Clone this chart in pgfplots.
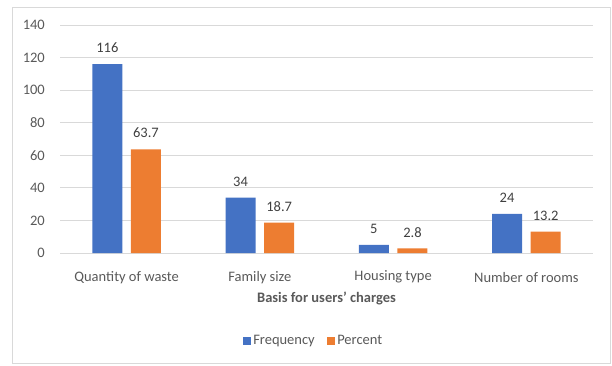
\documentclass[border=0pt]{standalone}
\usepackage{pgfplots}
\pgfplotsset{compat=1.18}
\usepackage{fontspec}
\setmainfont{Carlito}
\definecolor{cblue}{HTML}{4472C4}
\definecolor{corange}{HTML}{ED7D31}
\definecolor{cgrid}{HTML}{D9D9D9}
\definecolor{ctext}{HTML}{595959}
\definecolor{clab}{HTML}{404040}
\newcommand{\cf}{\fontsize{14.5bp}{17bp}\selectfont}
\begin{document}
\begin{tikzpicture}[x=1bp,y=1bp]
\useasboundingbox (0,0) rectangle (612,365);
\draw[cgrid, line width=0.75bp] (12.5,2) rectangle (610,358);
\begin{axis}[
  /pgf/number format/assume math mode=true,
  at={(60bp,112bp)}, anchor=south west,
  scale only axis, width=533bp, height=228bp,
  ymin=0, ymax=140, ytick={0,20,...,140},
  xmin=-0.5, xmax=3.5, xtick={0,1,2,3},
  xticklabels={Quantity of waste, Family size, Housing type, Number of rooms},
  ybar, bar width=30bp,
  axis line style={draw=none}, tick style={draw=none},
  ymajorgrids, grid style={cgrid, line width=0.75bp},
  yticklabel style={font=\cf, text=ctext, anchor=east, inner sep=0pt, xshift=-15bp},
  xticklabel style={font=\cf, text=ctext, anchor=center, inner sep=0pt, yshift=-20bp},
  xlabel={\bfseries Basis for users' charges},
  xlabel style={font=\cf, text=ctext, at={(axis description cs:0.5,0)}, anchor=center, yshift=-45bp},
  nodes near coords,
  every node near coord/.append style={font=\cf, text=clab, anchor=south, inner sep=0pt, yshift=11bp},
  legend style={draw=none, at={(axis description cs:0.4765,-0.385)}, anchor=center,
    legend columns=2, font=\cf, text=ctext,
    /tikz/every even column/.append style={column sep=10bp},
    nodes={inner sep=2.5bp}},
  legend image code/.code={\fill[#1] (0bp,-4bp) rectangle (7.5bp,3.5bp);},
]
\addplot[fill=cblue, draw=none, bar shift=-19.3bp] coordinates {(0,116) (1,34) (2,5) (3,24)};
\addplot[fill=corange, draw=none, bar shift=19.3bp] coordinates {(0,63.7) (1,18.7) (2,2.8) (3,13.2)};
\legend{Frequency, Percent}
\end{axis}
\end{tikzpicture}
\end{document}
